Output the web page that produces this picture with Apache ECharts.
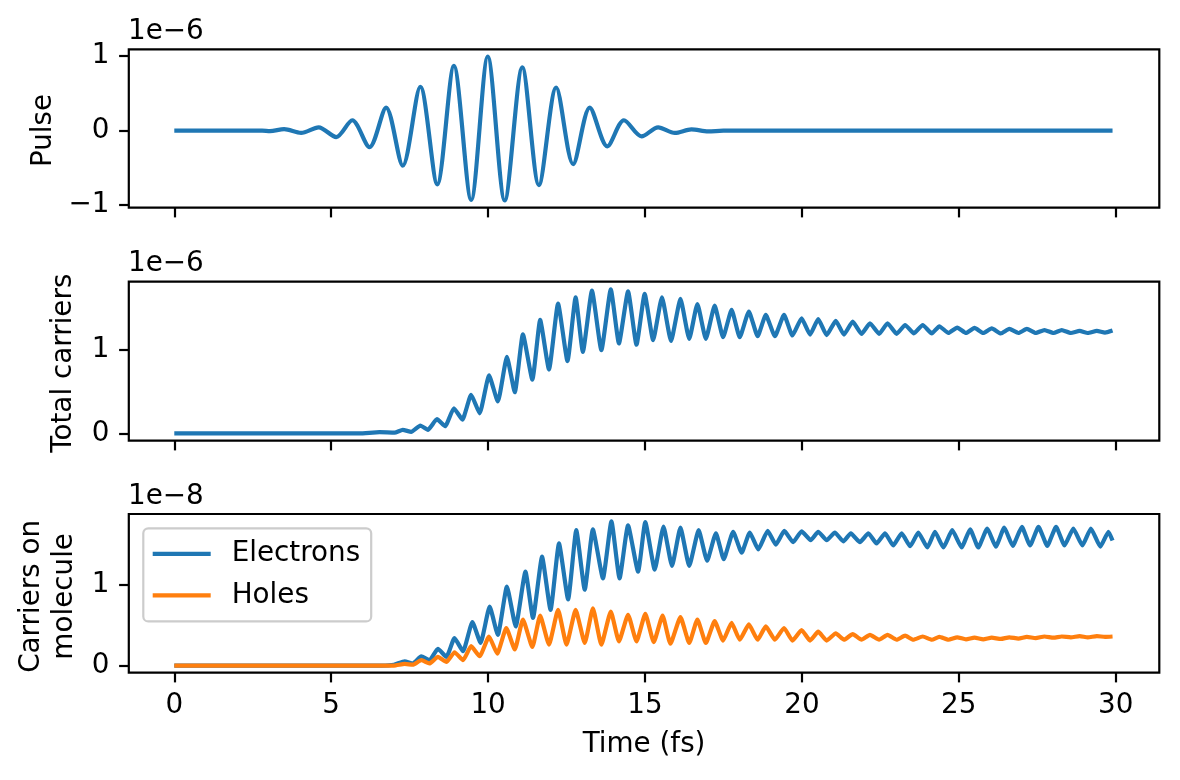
<!DOCTYPE html>
<html>
<head>
<meta charset="utf-8">
<script src="https://cdn.jsdelivr.net/npm/echarts@6/dist/echarts.min.js"></script>
<style>
html,body{margin:0;padding:0;background:#fff;}
#chart{width:1180px;height:780px;}
</style>
</head>
<body>
<div id="chart"></div>
<script>
// ---- data (values in units of the offset factor shown above each panel) ----
const xTicks = [0, 5, 10, 15, 20, 25, 30];
const pulseTicks = [-1, 0, 1];
const totalTicks = [0, 1];
const moleculeTicks = [0, 1];
const offsetLabels = ['1e\u22126', '1e\u22126', '1e\u22128'];
const yLabels = ['Pulse', 'Total carriers', 'Carriers on\nmolecule'];
const xLabel = 'Time (fs)';
const seriesNames = ['Electrons', 'Holes'];

const pulse = [[0,0],[2.8,0],[3.05,-0.005],[3.5,0.02],[4.04,-0.03],[4.6,0.045],[5.16,-0.085],[5.67,0.14],[6.22,-0.22],[6.75,0.31],[7.28,-0.47],[7.84,0.59],[8.38,-0.72],[8.91,0.87],[9.46,-0.93],[9.99,0.996],[10.53,-0.937],[11.09,0.85],[11.62,-0.73],[12.17,0.58],[12.71,-0.45],[13.24,0.31],[13.8,-0.21],[14.33,0.14],[14.89,-0.076],[15.42,0.045],[15.95,-0.03],[16.48,0.018],[17.01,-0.01],[17.5,0],[29.9,0]];

const total = [[0,0],[5.9,0],[6.54,0.015],[7.02,0.01],[7.28,0.043],[7.55,0.02],[7.84,0.094],[8.08,0.043],[8.37,0.17],[8.63,0.086],[8.91,0.30],[9.18,0.165],[9.46,0.46],[9.73,0.24],[10.03,0.69],[10.31,0.38],[10.6,0.91],[10.85,0.49],[11.11,1.18],[11.41,0.64],[11.66,1.35],[11.94,0.76],[12.23,1.545],[12.53,0.86],[12.79,1.62],[13.02,0.97],[13.31,1.70],[13.61,0.99],[13.91,1.715],[14.17,1.07],[14.46,1.69],[14.73,1.055],[14.99,1.66],[15.26,1.11],[15.54,1.62],[15.83,1.10],[16.13,1.60],[16.41,1.125],[16.67,1.54],[16.94,1.125],[17.22,1.52],[17.49,1.145],[17.76,1.47],[18.02,1.145],[18.31,1.45],[18.59,1.157],[18.85,1.41],[19.14,1.157],[19.43,1.41],[19.70,1.165],[19.99,1.37],[20.26,1.176],[20.52,1.36],[20.79,1.17],[21.08,1.34],[21.34,1.176],[21.62,1.33],[21.90,1.185],[22.17,1.31],[22.46,1.185],[22.73,1.31],[23.02,1.185],[23.29,1.29],[23.57,1.19],[23.85,1.29],[24.14,1.19],[24.38,1.275],[24.67,1.195],[24.95,1.26],[25.23,1.195],[25.50,1.255],[25.78,1.195],[26.05,1.25],[26.34,1.19],[26.61,1.243],[26.90,1.195],[27.17,1.243],[27.45,1.195],[27.73,1.23],[28.02,1.195],[28.28,1.23],[28.57,1.195],[28.85,1.22],[29.11,1.195],[29.40,1.22],[29.66,1.20],[29.9,1.225]];

const electrons = [[0,0],[6.6,0],[7.0,0.01],[7.34,0.053],[7.6,0.025],[7.87,0.115],[8.13,0.066],[8.40,0.206],[8.67,0.107],[8.93,0.34],[9.20,0.177],[9.50,0.54],[9.76,0.28],[10.05,0.73],[10.31,0.38],[10.60,0.98],[10.88,0.485],[11.19,1.165],[11.43,0.59],[11.72,1.35],[11.99,0.69],[12.26,1.515],[12.55,0.82],[12.81,1.68],[13.08,0.94],[13.34,1.69],[13.66,1.08],[13.93,1.79],[14.19,1.08],[14.46,1.74],[14.78,1.165],[15.01,1.78],[15.31,1.19],[15.59,1.725],[15.86,1.235],[16.13,1.71],[16.41,1.235],[16.71,1.68],[16.98,1.30],[17.26,1.64],[17.51,1.32],[17.81,1.66],[18.08,1.40],[18.34,1.65],[18.61,1.44],[18.91,1.67],[19.17,1.50],[19.44,1.67],[19.72,1.53],[19.99,1.665],[20.28,1.555],[20.52,1.66],[20.79,1.555],[21.05,1.65],[21.32,1.54],[21.56,1.64],[21.85,1.53],[22.12,1.64],[22.38,1.515],[22.65,1.64],[22.91,1.49],[23.18,1.64],[23.45,1.48],[23.71,1.65],[24.00,1.465],[24.24,1.66],[24.51,1.465],[24.79,1.68],[25.09,1.465],[25.36,1.69],[25.62,1.465],[25.91,1.70],[26.18,1.475],[26.45,1.71],[26.72,1.485],[27.01,1.72],[27.27,1.49],[27.54,1.72],[27.82,1.485],[28.10,1.72],[28.37,1.49],[28.65,1.70],[28.94,1.49],[29.21,1.70],[29.51,1.475],[29.77,1.66],[29.9,1.55]];

const holes = [[0,0],[7.0,0],[7.34,0.02],[7.6,0.01],[7.87,0.066],[8.13,0.025],[8.40,0.107],[8.67,0.045],[8.93,0.165],[9.20,0.066],[9.46,0.24],[9.73,0.115],[10.03,0.36],[10.29,0.148],[10.58,0.465],[10.85,0.20],[11.11,0.57],[11.41,0.23],[11.66,0.62],[11.94,0.26],[12.23,0.69],[12.50,0.26],[12.79,0.69],[13.08,0.28],[13.34,0.71],[13.61,0.26],[13.91,0.67],[14.17,0.30],[14.46,0.63],[14.73,0.30],[15.01,0.64],[15.28,0.29],[15.56,0.62],[15.81,0.27],[16.13,0.60],[16.41,0.28],[16.67,0.57],[16.94,0.28],[17.22,0.55],[17.49,0.31],[17.76,0.53],[18.02,0.32],[18.31,0.51],[18.59,0.32],[18.85,0.485],[19.14,0.32],[19.43,0.465],[19.70,0.31],[19.99,0.44],[20.26,0.31],[20.52,0.42],[20.79,0.31],[21.08,0.40],[21.34,0.32],[21.62,0.39],[21.90,0.32],[22.17,0.38],[22.46,0.32],[22.73,0.38],[23.02,0.32],[23.29,0.37],[23.55,0.32],[23.85,0.36],[24.14,0.32],[24.38,0.355],[24.67,0.32],[24.95,0.35],[25.23,0.325],[25.50,0.345],[25.78,0.325],[26.05,0.345],[26.34,0.33],[26.61,0.35],[26.90,0.335],[27.17,0.355],[27.45,0.34],[27.73,0.36],[28.02,0.345],[28.28,0.36],[28.57,0.35],[28.85,0.365],[29.11,0.35],[29.40,0.365],[29.66,0.355],[29.9,0.36]];

// ---- layout / style ----
const FONT = 'DejaVu Sans';
const FS = 27.8;
const BLUE = '#1f77b4', ORANGE = '#ff7f0e';
const gridLeft = 128.8, gridRight = 1180 - 1159.3;
const grids = [
  {top: 49.3, height: 158.4},
  {top: 281.7, height: 159},
  {top: 514, height: 158.7}
];
const yRanges = [[-1.034, 1.093], [-0.086, 1.805], [-0.089, 1.88]];
const yTickSets = [pulseTicks, totalTicks, moleculeTicks];

function fmt(v) { return v < 0 ? '\u2212' + Math.abs(v) : String(v); }

const chart = echarts.init(document.getElementById('chart'), null, {renderer: 'canvas'});

const option = {
  animation: false,
  backgroundColor: '#fff',
  textStyle: {fontFamily: FONT},
  grid: grids.map(g => ({
    left: gridLeft, right: gridRight, top: g.top, height: g.height,
    show: true, borderColor: '#000', borderWidth: 2.2, backgroundColor: 'transparent',
    containLabel: false
  })),
  xAxis: grids.map((g, i) => ({
    type: 'value', gridIndex: i, min: -1.45, max: 31.39,
    axisLine: {show: false, onZero: false},
    axisTick: {show: true, length: 9.7, lineStyle: {color: '#000', width: 2.2}, customValues: xTicks},
    axisLabel: {show: i === 2, customValues: xTicks, margin: 19.4, color: '#000', fontFamily: FONT, fontSize: FS, formatter: fmt},
    splitLine: {show: false},
    name: i === 2 ? xLabel : '',
    nameLocation: 'middle', nameGap: 58,
    nameTextStyle: {color: '#000', fontFamily: FONT, fontSize: FS}
  })),
  yAxis: grids.map((g, i) => ({
    type: 'value', gridIndex: i, min: yRanges[i][0], max: yRanges[i][1],
    axisLine: {show: false, onZero: false},
    axisTick: {show: true, length: 9.7, lineStyle: {color: '#000', width: 2.2}, customValues: yTickSets[i]},
    axisLabel: {show: true, customValues: yTickSets[i], margin: 19.4, color: '#000', fontFamily: FONT, fontSize: FS, formatter: fmt},
    splitLine: {show: false}
  })),
  legend: {
    show: true, orient: 'vertical', left: 143.3, top: 528.3,
    data: seriesNames.map(n => ({name: n, icon: 'rect'})),
    itemWidth: 58, itemHeight: 4.2, itemGap: 13.6,
    padding: [11.5, 11, 12, 9.4],
    backgroundColor: 'rgba(255,255,255,0.8)',
    borderColor: '#cccccc', borderWidth: 2.2, borderRadius: 5,
    itemStyle: {borderWidth: 0},
    textStyle: {color: '#000', fontFamily: FONT, fontSize: FS, lineHeight: 28, padding: [0, 0, 0, 16]}
  },
  series: [
    {type: 'line', name: 'Pulse', xAxisIndex: 0, yAxisIndex: 0, data: pulse, symbol: 'none', smooth: 0.3,
     lineStyle: {color: BLUE, width: 4.2}, itemStyle: {color: BLUE}},
    {type: 'line', name: 'Total', xAxisIndex: 1, yAxisIndex: 1, data: total, symbol: 'none', smooth: 0.15,
     lineStyle: {color: BLUE, width: 4.2}, itemStyle: {color: BLUE}},
    {type: 'line', name: seriesNames[0], xAxisIndex: 2, yAxisIndex: 2, data: electrons, symbol: 'none', smooth: 0.15,
     lineStyle: {color: BLUE, width: 4.2}, itemStyle: {color: BLUE}},
    {type: 'line', name: seriesNames[1], xAxisIndex: 2, yAxisIndex: 2, data: holes, symbol: 'none', smooth: 0.15,
     lineStyle: {color: ORANGE, width: 4.2}, itemStyle: {color: ORANGE}}
  ],
  graphic: [
    // offset (multiplier) labels
    ...offsetLabels.map((t, i) => ({
      type: 'text', x: 128, y: grids[i].top - 8 - 9.6,
      style: {text: t, fill: '#000', font: FS + 'px "' + FONT + '"', textAlign: 'left', textVerticalAlign: 'middle'}
    })),
    // y-axis labels (rotated)
    {type: 'text', x: 43.7, y: grids[0].top + grids[0].height / 2 + 2, rotation: Math.PI / 2,
     style: {text: yLabels[0], fill: '#000', font: FS + 'px "' + FONT + '"', textAlign: 'center', textVerticalAlign: 'middle'}},
    {type: 'text', x: 63.7, y: grids[1].top + grids[1].height / 2 + 2, rotation: Math.PI / 2,
     style: {text: yLabels[1], fill: '#000', font: FS + 'px "' + FONT + '"', textAlign: 'center', textVerticalAlign: 'middle'}},
    {type: 'text', x: 48.2, y: grids[2].top + grids[2].height / 2 + 3, rotation: Math.PI / 2,
     style: {text: yLabels[2], fill: '#000', font: FS + 'px "' + FONT + '"', lineHeight: 32.5, textAlign: 'center', textVerticalAlign: 'middle'}}
  ]
};
chart.setOption(option);
</script>
</body>
</html>
